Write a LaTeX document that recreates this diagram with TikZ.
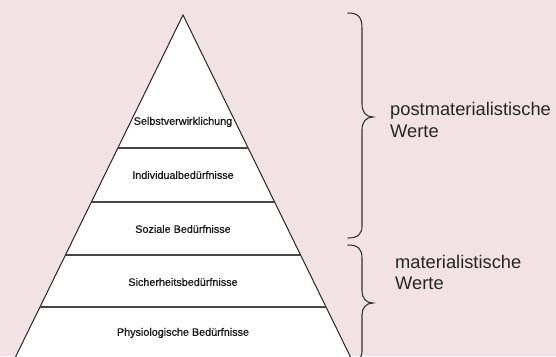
\documentclass[tikz,border=0pt]{standalone}
\usepackage{fontspec}
\setmainfont{Liberation Sans}
\newfontfamily\levelfont[FakeBold=0.7]{Liberation Sans}
\definecolor{bgpink}{RGB}{242,225,229}
\definecolor{linegray}{RGB}{70,70,70}
\begin{document}
\begin{tikzpicture}[x=1pt,y=-1pt,
  level/.style={font=\levelfont\fontsize{10.8}{12}\selectfont, text=black!90, inner sep=0pt, anchor=center},
  side/.style={font=\fontsize{18.3}{21.5}\selectfont, text=black!85, align=left, inner sep=0pt, anchor=base west},
  divider/.style={draw=linegray, line width=1.6pt},
  bracepath/.style={draw=black!80, line width=1.1pt, line cap=round}]
\useasboundingbox (0,0) rectangle (556,356);
\fill[bgpink] (0,0) rectangle (556,356);
\begin{scope}
\clip (0,0) rectangle (556,356);
% pyramid
\coordinate (apex) at (183,15);
\coordinate (bl) at (14,360);
\coordinate (br) at (352,360);
\filldraw[fill=white, draw=black!85, line width=1pt, line join=miter] (apex) -- (br) -- (bl) -- cycle;
% dividers
\draw[divider] (117.8,148) -- (248.2,148);
\draw[divider] (91.6,202) -- (274.4,202);
\draw[divider] (65.6,255) -- (300.4,255);
\draw[divider] (40.2,307) -- (325.8,307);
% braces
\draw[bracepath] (348,13) .. controls (358,13) and (362,17) .. (362,28)
  -- (362,104) .. controls (362,112) and (366,117) .. (373,117)
  .. controls (366,117) and (362,122) .. (362,130)
  -- (362,226) .. controls (362,234) and (358,238) .. (348,238);
\draw[bracepath] (348,245) .. controls (358,245) and (362,249) .. (362,258)
  -- (362,291) .. controls (362,298) and (366,303) .. (373,303)
  .. controls (366,303) and (362,308) .. (362,315)
  -- (362,352) .. controls (362,358) and (358,360) .. (350,362);
\end{scope}
% level labels
\node[level] (l5) at (183,122) {Selbstverwirklichung};
\node[level] (l4) at (183,175) {Individualbedürfnisse};
\node[level] (l3) at (183,229) {Soziale Bedürfnisse};
\node[level] (l2) at (183,282) {Sicherheitsbedürfnisse};
\node[level] (l1) at (183,333) {Physiologische Bedürfnisse};
% side labels
\node[side] (post) at (390,137) {postmaterialistische\\Werte};
\node[side] (mat) at (395,289.5) {materialistische\\Werte};
\end{tikzpicture}
\end{document}
